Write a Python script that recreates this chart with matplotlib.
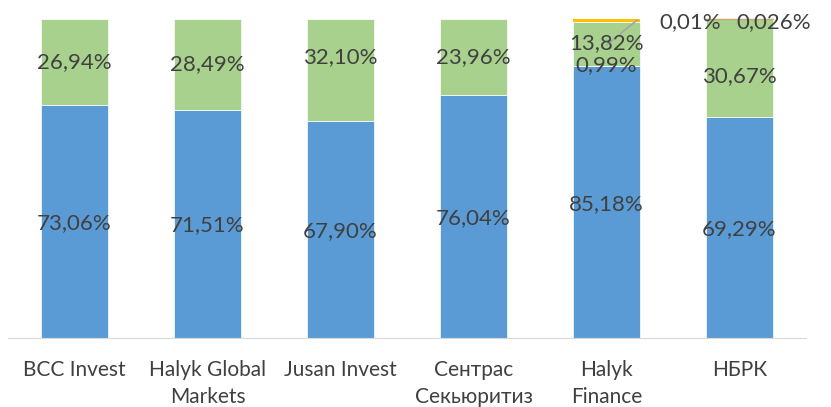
import matplotlib.pyplot as plt
import numpy as np

categories = ['BCC Invest', 'Halyk Global\nMarkets', 'Jusan Invest', 'Сентрас\nСекьюритиз', 'Halyk\nFinance', 'НБРК']
blue = [73.06, 71.51, 67.90, 76.04, 85.18, 69.29]
green = [26.94, 28.49, 32.10, 23.96, 13.82, 30.67]
gray = [0, 0, 0, 0, 0, 0.01]
yellow = [0, 0, 0, 0, 0.99, 0.026]

plt.rcParams['font.family'] = ['Lato', 'DejaVu Sans']
txt = '#404040'


def pct(v, nd=2):
    return (f'{v:.{nd}f}%').replace('.', ',')


fig = plt.figure(figsize=(8.31, 4.07), dpi=100)
ax = fig.add_axes([0.0096, 0.1695, 0.9604, 0.7838])

x = np.arange(len(categories))
w = 0.5
b = np.array(blue)
g = np.array(green)
ax.bar(x, b, w, color='#5b9bd5', edgecolor='white', linewidth=0.5)
ax.bar(x, g, w, bottom=b, color='#a9d18e', edgecolor='white', linewidth=0.5)
ax.bar(x, gray, w, bottom=b + g, color='#a5a5a5', linewidth=0)
ax.bar(x, yellow, w, bottom=b + g + np.array(gray), color='#ffc000', linewidth=0)
# thin top line on НБРК
ax.plot([x[5] - w / 2, x[5] + w / 2], [100, 100], color='#c9a66b', lw=1, clip_on=False)

fs = 16
for i in range(len(categories)):
    ax.text(x[i], b[i] / 2 - 0.5, pct(blue[i]), ha='center', va='center', fontsize=fs, color=txt)
    if i == 4:
        continue
    gy = b[i] + g[i] / 2
    if i == 2:
        gy = 88
    if i == 5:
        gy = 82
    ax.text(x[i], gy, pct(green[i]), ha='center', va='center', fontsize=fs, color=txt)

# Halyk Finance small labels
ax.plot([x[4] + 0.0, x[4] + 0.23], [91.8, 99.7], color='#a5a5a5', lw=1.2)
ax.text(x[4], 92.3, pct(green[4]), ha='center', va='center', fontsize=fs, color=txt)
ax.text(x[4], 85.6, pct(yellow[4]), ha='center', va='center', fontsize=fs, color=txt)

# НБРК tiny labels
ax.text(x[5] - 0.37, 99, pct(gray[5]), ha='center', va='center', fontsize=fs, color=txt, clip_on=False)
ax.text(x[5] + 0.26, 99, pct(yellow[5], 3), ha='center', va='center', fontsize=fs, color=txt, clip_on=False)

ax.set_xlim(-0.5, 5.5)
ax.set_ylim(0, 100)
ax.set_yticks([])
ax.set_xticks(x)
ax.set_xticklabels(categories, fontsize=15, color=txt, linespacing=1.45)
ax.tick_params(axis='x', length=0, pad=16)
for s in ['top', 'left', 'right']:
    ax.spines[s].set_visible(False)
ax.spines['bottom'].set_color('#d9d9d9')

plt.savefig('out.png', dpi=100)
